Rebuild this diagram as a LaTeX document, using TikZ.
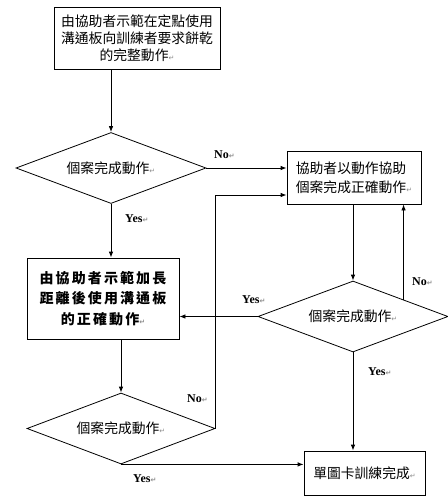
\documentclass[tikz,border=0pt]{standalone}
\usepackage{fontspec}
\newfontfamily\cjk{Noto Sans CJK TC}
\newfontfamily\lat{Liberation Serif}
\newfontfamily\symf{DejaVu Sans}
\usetikzlibrary{shapes.geometric,arrows.meta,calc}
\newcommand{\pmk}{{\symf\fontsize{7}{7}\selectfont\textcolor{black!45}{↵}}}
\begin{document}
\begin{tikzpicture}[x=1pt,y=-1pt,
  box/.style={draw, line width=0.8pt, inner sep=0pt, font=\cjk\fontsize{13.8}{17}\selectfont},
  dia/.style={draw, diamond, aspect=2.68, inner sep=0pt, line width=0.8pt,
    minimum width=190pt, minimum height=71pt, font=\cjk\fontsize{13.8}{17}\selectfont},
  lbl/.style={anchor=west, inner sep=0pt, font=\lat\bfseries\fontsize{12}{12}\selectfont},
  arr/.style={line width=0.8pt, -{Latex[length=6pt,width=4.5pt]}},
  ln/.style={line width=0.8pt}]
\useasboundingbox (0,0) rectangle (448,499);
\node[box, minimum width=166pt, minimum height=62pt, align=center] (top) at (137,38)
  {由協助者示範在定點使用\\溝通板向訓練者要求餅乾\\的完整動作\pmk};
\node[dia] (d1) at (111,168) {個案完成動作\pmk};
\node[box, minimum width=134pt, minimum height=53pt, align=left,
  font=\cjk\fontsize{13.8}{19}\selectfont] (b2) at (354,177.5)
  {協助者以動作協助\\個案完成正確動作\pmk};
\node[box, minimum width=152pt, minimum height=81pt, align=center,
  font=\cjk\bfseries\fontsize{14}{20.5}\selectfont\addfontfeature{LetterSpace=15}] (b3) at (103,298.5)
  {由協助者示範加長\\距離後使用溝通板\\的正確動作\pmk};
\node[dia] (d2) at (353,316.5) {個案完成動作\pmk};
\node[dia, minimum width=188pt] (d3) at (121,428.5) {個案完成動作\pmk};
\node[box, minimum width=121pt, minimum height=44pt] (b4) at (364.5,473) {單圖卡訓練完成\pmk};
\coordinate (j) at ($(b2.west)+(0,17.5)$);
\coordinate (d2ne) at ($(d2.north)!0.53!(d2.east)$);
\draw[arr] (d1.north |- top.south) -- (d1.north);
\draw[arr] (d1.east) -- (b2.west |- d1.east);
\draw[arr] (d1.south) -- (d1.south |- b3.north);
\draw[arr] (d3.north |- b3.south) -- (d3.north);
\draw[arr] (d3.east) |- (j);
\draw[arr] (d2.north |- b2.south) -- (d2.north);
\draw[arr] (d2ne) -- (d2ne |- b2.south);
\draw[arr] (d2.west) -- (b3.east |- d2.west);
\draw[arr] (d2.south) -- (d2.south |- b4.north);
\draw[arr] (d3.south) -- (b4.west |- d3.south);
\node[lbl] (l1) at (214,155) {No\pmk};
\node[lbl] (l2) at (125,219) {Yes\pmk};
\node[lbl] (l3) at (242,300) {Yes\pmk};
\node[lbl] (l4) at (412,282) {No\pmk};
\node[lbl] (l5) at (368,372) {Yes\pmk};
\node[lbl] (l6) at (187,399) {No\pmk};
\node[lbl] (l7) at (133,479) {Yes\pmk};
\end{tikzpicture}
\end{document}
